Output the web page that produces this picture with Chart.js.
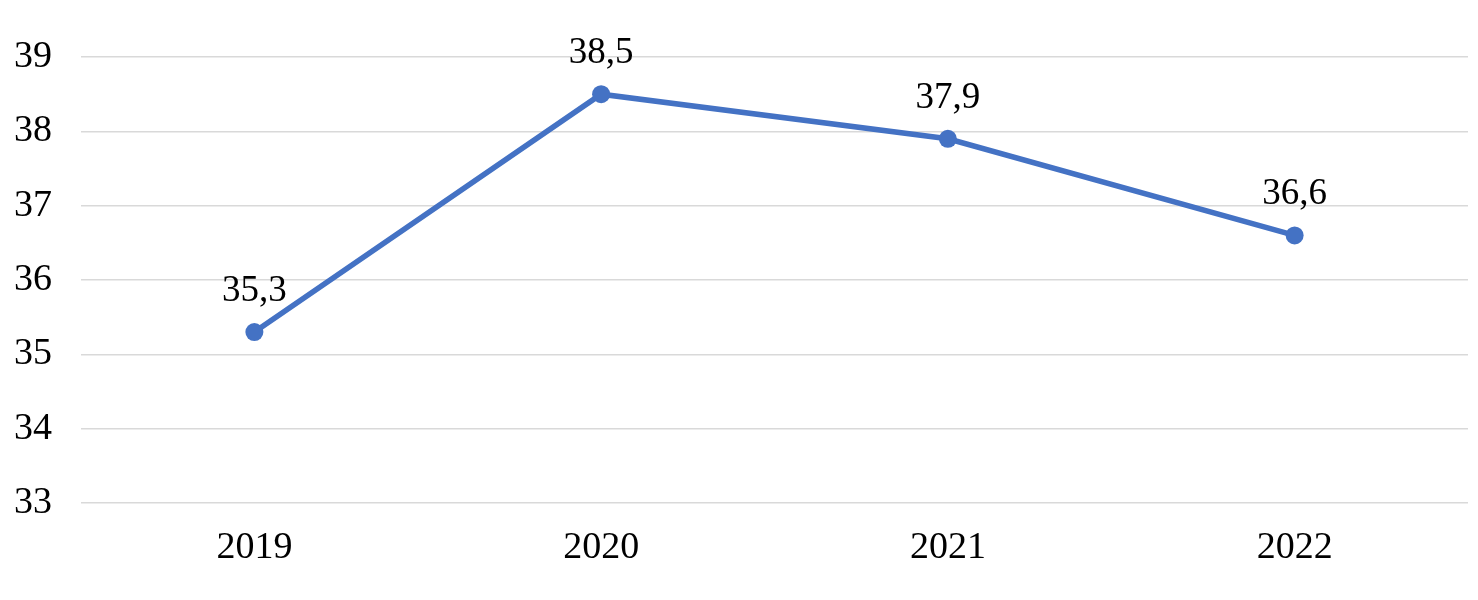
<!DOCTYPE html>
<html>
<head>
<meta charset="utf-8">
<script src="https://cdn.jsdelivr.net/npm/chart.js@4/dist/chart.umd.min.js"></script>
<style>
html,body{margin:0;padding:0;background:#fff;}
#wrap{width:1478px;height:600px;position:relative;}
</style>
</head>
<body>
<div id="wrap"><canvas id="c"></canvas></div>
<script>
const categories = ['2019', '2020', '2021', '2022'];
const values = [35.3, 38.5, 37.9, 36.6];
const yMin = 33;
const yMax = 39;

const FONT = "'Liberation Serif', 'Times New Roman', serif";
const LINE_COLOR = '#4472C4';

const dataLabels = {
  id: 'dataLabels',
  afterDatasetsDraw(chart) {
    const ctx = chart.ctx;
    const meta = chart.getDatasetMeta(0);
    ctx.save();
    ctx.font = '37px ' + FONT;
    ctx.fillStyle = '#000';
    ctx.textAlign = 'center';
    ctx.textBaseline = 'alphabetic';
    meta.data.forEach((pt, i) => {
      const v = chart.data.datasets[0].data[i];
      ctx.fillText(String(v).replace('.', ','), pt.x, pt.y - 31);
    });
    ctx.restore();
  }
};

new Chart(document.getElementById('c'), {
  type: 'line',
  data: {
    labels: categories,
    datasets: [{
      data: values,
      borderColor: LINE_COLOR,
      backgroundColor: LINE_COLOR,
      borderWidth: 5.5,
      pointRadius: 9,
      pointBorderWidth: 0,
      pointBackgroundColor: LINE_COLOR,
      tension: 0,
      fill: false
    }]
  },
  options: {
    responsive: true,
    maintainAspectRatio: false,
    animation: false,
    layout: { padding: { top: 57, right: 10, left: 0, bottom: 0 } },
    plugins: { legend: { display: false }, tooltip: { enabled: false } },
    scales: {
      x: {
        offset: true,
        grid: { display: false },
        border: { display: false },
        ticks: { color: '#000', font: { family: FONT, size: 38 }, padding: 14 },
        afterFit(s) { s.height = 97; }
      },
      y: {
        min: yMin,
        max: yMax,
        ticks: { stepSize: 1, color: '#000', font: { family: FONT, size: 38 }, padding: 29 },
        grid: { color: '#d9d9d9', lineWidth: 1.5, drawTicks: false },
        border: { display: false },
        afterFit(s) { s.width = 81; }
      }
    }
  },
  plugins: [dataLabels]
});
</script>
</body>
</html>
